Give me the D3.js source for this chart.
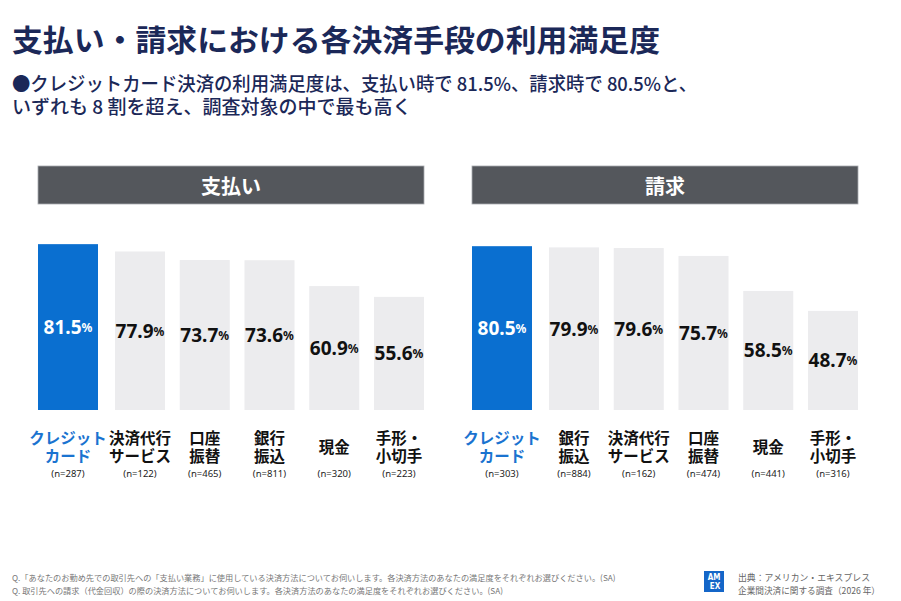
<!DOCTYPE html>
<html lang="ja">
<head>
<meta charset="utf-8">
<script src="https://cdn.jsdelivr.net/npm/d3@7.9.0/dist/d3.min.js"></script>
<style>
  html, body { margin: 0; padding: 0; background: #fff; }
  svg { display: block; font-family: "Noto Sans CJK JP", "Noto Sans", sans-serif; }
</style>
</head>
<body>
<div id="chart"></div>
<script>
// Data
const payCategories = ['クレジット\nカード', '決済代行\nサービス', '口座\n振替', '銀行\n振込', '現金', '手形・\n小切手'];
const payValues = [81.5, 77.9, 73.7, 73.6, 60.9, 55.6];
const paySamples = [287, 122, 465, 811, 320, 223];

const billCategories = ['クレジット\nカード', '銀行\n振込', '決済代行\nサービス', '口座\n振替', '現金', '手形・\n小切手'];
const billValues = [80.5, 79.9, 79.6, 75.7, 58.5, 48.7];
const billSamples = [303, 884, 162, 474, 441, 316];

const panelTitles = ['支払い', '請求'];

const title = '支払い・請求における各決済手段の利用満足度';
const subtitleLines = [
  '●クレジットカード決済の利用満足度は、支払い時で 81.5%、請求時で 80.5%と、',
  'いずれも 8 割を超え、調査対象の中で最も高く'
];
const notes = [
  'Q.「あなたのお勤め先での取引先への「支払い業務」に使用している決済方法についてお伺いします。各決済方法のあなたの満足度をそれぞれお選びください。(SA)',
  'Q. 取引先への請求（代金回収）の際の決済方法についてお伺いします。各決済方法のあなたの満足度をそれぞれお選びください。(SA)'
];
const sourceLines = ['出典：アメリカン・エキスプレス', '企業間決済に関する調査（2026 年）'];

const width = 901;
const height = 601;

const navy = '#1b2858';
const blue = '#0a6fd0';
const grayBar = '#ececee';
const headerGray = '#54575c';

const svg = d3.select('#chart')
  .append('svg')
  .attr('width', width)
  .attr('height', height)
  .attr('viewBox', `0 0 ${width} ${height}`);

// Title & subtitle
svg.append('text')
  .attr('x', 12)
  .attr('y', 51)
  .attr('fill', navy)
  .attr('font-size', 30)
  .attr('font-weight', 700)
  .attr('textLength', 648)
  .attr('lengthAdjust', 'spacingAndGlyphs')
  .text(title);

svg.append('g')
  .selectAll('text')
  .data(subtitleLines)
  .join('text')
  .attr('x', 12)
  .attr('y', (d, i) => 91 + i * 23)
  .attr('fill', navy)
  .attr('font-size', 19)
  .attr('font-weight', 500)
  .attr('textLength', (d, i) => i === 0 ? 685 : null)
  .attr('lengthAdjust', 'spacingAndGlyphs')
  .text((d) => d);

// Shared y scale
const y = d3.scaleLinear().domain([0, 100]).range([410, 206.5]);

const panels = [
  { x0: 38, x1: 424, title: panelTitles[0], cats: payCategories, values: payValues, n: paySamples },
  { x0: 472, x1: 858, title: panelTitles[1], cats: billCategories, values: billValues, n: billSamples },
];

function renderPanel(p) {
  const g = svg.append('g');

  // Header band
  g.append('rect')
    .attr('x', p.x0)
    .attr('y', 166)
    .attr('width', p.x1 - p.x0)
    .attr('height', 38)
    .attr('fill', headerGray)
    .attr('stroke', '#a9abaf')
    .attr('stroke-width', 0.8);

  g.append('text')
    .attr('x', (p.x0 + p.x1) / 2)
    .attr('y', 185)
    .attr('text-anchor', 'middle')
    .attr('dominant-baseline', 'central')
    .attr('fill', '#fff')
    .attr('font-size', 20)
    .attr('font-weight', 700)
    .text(p.title);

  const rows = p.cats.map((c, i) => ({ cat: c, value: p.values[i], n: p.n[i], first: i === 0 }));

  const x = d3.scaleBand()
    .domain(p.cats)
    .range([p.x0 + 12.25, p.x1])
    .paddingInner(0.2278)
    .paddingOuter(0);

  // highlighted bar is wider and shifted left
  const barX = (d) => d.first ? x(d.cat) - 12.25 : x(d.cat);
  const barW = (d) => d.first ? x.bandwidth() + 10 : x.bandwidth();
  const cx = (d) => barX(d) + barW(d) / 2;

  g.append('g')
    .selectAll('rect')
    .data(rows)
    .join('rect')
    .attr('x', barX)
    .attr('y', (d) => y(d.value))
    .attr('width', barW)
    .attr('height', (d) => y(0) - y(d.value))
    .attr('fill', (d) => d.first ? blue : grayBar);

  // Value labels
  const vl = g.append('g')
    .selectAll('text')
    .data(rows)
    .join('text')
    .attr('x', cx)
    .attr('y', (d) => (y(d.value) + y(0)) / 2)
    .attr('text-anchor', 'middle')
    .attr('dominant-baseline', 'central')
    .attr('fill', (d) => d.first ? '#fff' : '#111')
    .attr('font-family', '"Noto Sans", sans-serif')
    .attr('font-weight', 700);
  vl.append('tspan').attr('font-size', 19).text((d) => d.value.toFixed(1));
  vl.append('tspan').attr('font-size', 12).text('%');

  // Category labels, one text per line
  const lineRows = rows.flatMap((d) => {
    const lines = d.cat.split('\n');
    const top = lines.length === 1 ? 453 : 444;
    return lines.map((l, i) => ({ text: l, row: d, y: top + i * 18 }));
  });
  g.append('g')
    .selectAll('text')
    .data(lineRows)
    .join('text')
    .attr('x', (d) => cx(d.row))
    .attr('y', (d) => d.y)
    .attr('text-anchor', 'middle')
    .attr('fill', (d) => d.row.first ? '#1a73d0' : '#111')
    .attr('font-size', 15.5)
    .attr('font-weight', 700)
    .text((d) => d.text);

  // Sample sizes
  g.append('g')
    .selectAll('text')
    .data(rows)
    .join('text')
    .attr('x', cx)
    .attr('y', 477)
    .attr('text-anchor', 'middle')
    .attr('fill', '#222')
    .attr('font-family', '"Noto Sans", sans-serif')
    .attr('font-size', 9.5)
    .text((d) => `(n=${d.n})`);
}

panels.forEach(renderPanel);

// Footnotes
svg.append('g')
  .selectAll('text')
  .data(notes)
  .join('text')
  .attr('x', 12)
  .attr('y', (d, i) => 581 + i * 13)
  .attr('fill', '#777')
  .attr('font-size', 8.2)
  .text((d) => d);

// Logo
const logo = svg.append('g').attr('transform', 'translate(704,571)');
logo.append('rect').attr('width', 20).attr('height', 21).attr('fill', '#1466c8');
logo.append('text').attr('x', 10).attr('y', 9).attr('text-anchor', 'middle')
  .attr('fill', '#fff').attr('font-size', 8).attr('font-weight', 700)
  .attr('font-family', '"DejaVu Sans Condensed", sans-serif').text('AM');
logo.append('text').attr('x', 11).attr('y', 18).attr('text-anchor', 'middle')
  .attr('fill', '#fff').attr('font-size', 8).attr('font-weight', 700)
  .attr('font-family', '"DejaVu Sans Condensed", sans-serif').text('EX');

svg.append('g')
  .selectAll('text')
  .data(sourceLines)
  .join('text')
  .attr('x', 738)
  .attr('y', (d, i) => 581 + i * 13.2)
  .attr('fill', '#666')
  .attr('font-size', 9)
  .attr('textLength', (d, i) => i === 0 ? 132 : 142)
  .attr('lengthAdjust', 'spacingAndGlyphs')
  .text((d) => d);
</script>
</body>
</html>
